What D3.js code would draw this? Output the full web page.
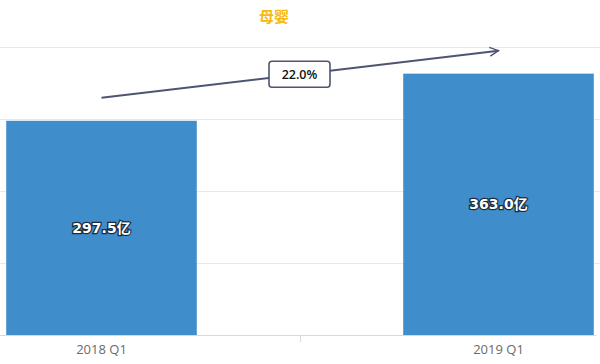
<!DOCTYPE html>
<html>
<head>
<meta charset="utf-8">
<script src="https://cdn.jsdelivr.net/npm/d3@7"></script>
<style>
  body { margin: 0; background: #fff; }
  svg { display: block; }
</style>
</head>
<body>
<div id="wrapper"></div>
<script>
// data
const categories = ["2018 Q1", "2019 Q1"];
const values = [297.5, 363.0];
const valueLabels = ["297.5亿", "363.0亿"];
const growthLabel = "22.0%";
const yTicks = [0, 100, 200, 300, 400];
const title = "母婴";

const dimensions = { width: 600, height: 364 };

const svg = d3.select("#wrapper").append("svg")
    .attr("width", dimensions.width)
    .attr("height", dimensions.height);

const xScale = d3.scaleBand()
    .domain(categories)
    .range([-97, 697])
    .paddingInner(0.52)
    .paddingOuter(0.26);

const yScale = d3.scaleLinear()
    .domain([0, 400])
    .range([335, 47]);

// gridlines
svg.append("g")
    .selectAll("line")
    .data(yTicks.slice(1))
    .join("line")
        .attr("x1", 0)
        .attr("x2", 600)
        .attr("y1", d => yScale(d) + 0.5)
        .attr("y2", d => yScale(d) + 0.5)
        .attr("stroke", "#e8e8e8")
        .attr("stroke-width", 1);

// bars
svg.append("g")
    .selectAll("rect")
    .data(values)
    .join("rect")
        .attr("x", (d, i) => xScale(categories[i]))
        .attr("width", xScale.bandwidth())
        .attr("y", d => yScale(d))
        .attr("height", d => yScale(0) - yScale(d))
        .attr("fill", "#3f8dcb");

// x axis
const xAxis = svg.append("g")
    .attr("transform", `translate(0, ${yScale(0)})`)
    .call(d3.axisBottom(xScale).tickSize(0).tickPadding(10));
xAxis.select(".domain").attr("stroke", "#d9d9d9").attr("d", "M0,0.5H596");
xAxis.selectAll("text")
    .attr("fill", "#6b6b6b")
    .style("font-size", "13px")
    .style("font-family", "'Open Sans', sans-serif");
// tick between categories
xAxis.append("line")
    .attr("x1", 300.5).attr("x2", 300.5)
    .attr("y1", 0).attr("y2", 7)
    .attr("stroke", "#d9d9d9");

// value labels
svg.append("g")
    .selectAll("text")
    .data(values)
    .join("text")
        .attr("x", (d, i) => xScale(categories[i]) + xScale.bandwidth() / 2)
        .attr("y", d => (yScale(d) + yScale(0)) / 2)
        .attr("text-anchor", "middle")
        .attr("dominant-baseline", "central")
        .attr("fill", "#fff")
        .attr("stroke", "#1e2a3a")
        .attr("stroke-width", 2.5)
        .attr("paint-order", "stroke")
        .style("font-size", "14px")
        .style("font-weight", "bold")
        .style("font-family", "'DejaVu Sans', 'Noto Sans CJK SC', sans-serif")
        .text((d, i) => valueLabels[i]);

// growth arrow
const x0 = xScale(categories[0]) + xScale.bandwidth() / 2;
const x1 = xScale(categories[1]) + xScale.bandwidth() / 2;
const ay0 = yScale(values[0]) - 23;
const ay1 = yScale(values[1]) - 23;

svg.append("defs").append("marker")
    .attr("id", "arrow")
    .attr("viewBox", "0 0 10 10")
    .attr("refX", 9).attr("refY", 5)
    .attr("markerWidth", 11).attr("markerHeight", 11)
    .attr("markerUnits", "userSpaceOnUse")
    .attr("orient", "auto")
  .append("path")
    .attr("d", "M1,1L9,5L1,9")
    .attr("fill", "none")
    .attr("stroke", "#4e5473")
    .attr("stroke-width", 1.3);

svg.append("line")
    .attr("x1", x0).attr("y1", ay0)
    .attr("x2", x1).attr("y2", ay1)
    .attr("stroke", "#4e5473")
    .attr("stroke-width", 2)
    .attr("marker-end", "url(#arrow)");

const bx = (x0 + x1) / 2, by = (ay0 + ay1) / 2;
svg.append("rect")
    .attr("x", bx - 31).attr("y", by - 13)
    .attr("width", 61).attr("height", 26)
    .attr("rx", 3)
    .attr("fill", "#fff")
    .attr("stroke", "#4e5473")
    .attr("stroke-width", 1.6);
svg.append("text")
    .attr("x", bx - 0.5).attr("y", by)
    .attr("text-anchor", "middle")
    .attr("dominant-baseline", "central")
    .attr("fill", "#111")
    .style("font-size", "12.5px")
    .style("font-weight", "600")
    .style("font-family", "'Open Sans', sans-serif")
    .text(growthLabel);

// title
svg.append("text")
    .attr("x", 274)
    .attr("y", 15)
    .attr("text-anchor", "middle")
    .attr("dominant-baseline", "central")
    .attr("fill", "#f5b90f")
    .style("font-size", "15px")
    .style("font-weight", "bold")
    .style("font-family", "'Noto Sans CJK SC', sans-serif")
    .text(title);
</script>
</body>
</html>
